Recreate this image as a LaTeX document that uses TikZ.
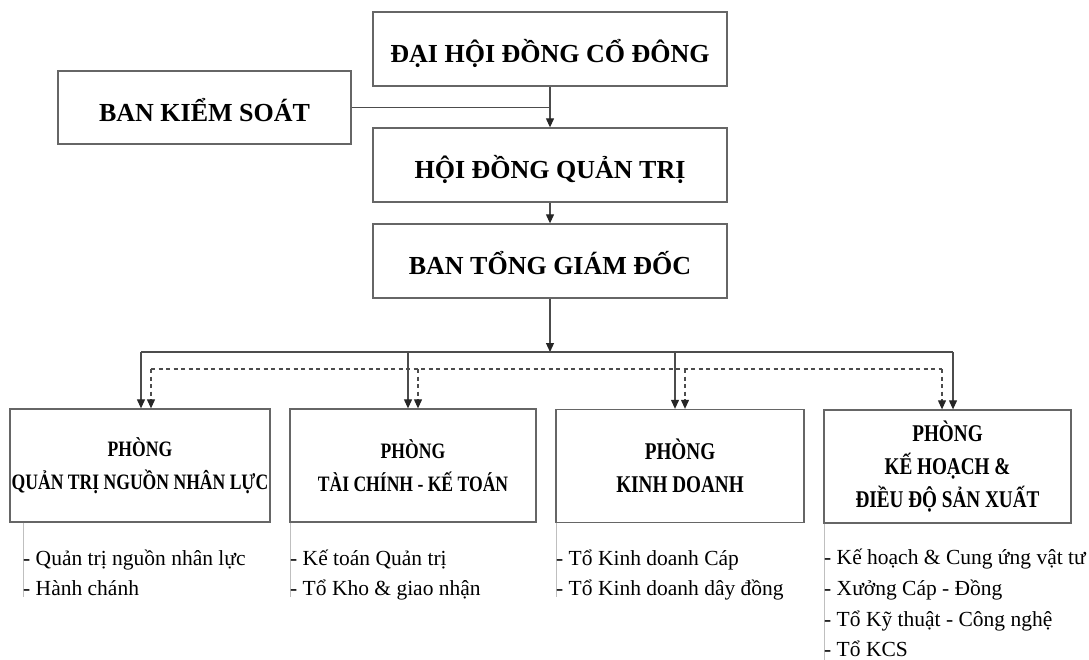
\documentclass[tikz,border=0pt]{standalone}
\usepackage{fontspec}
\setmainfont{Liberation Serif}
\newfontfamily\condfont[FakeStretch=0.8]{Liberation Serif}
\usetikzlibrary{arrows.meta}
\begin{document}
\begin{tikzpicture}[x=1pt,y=-1pt,
  orgbox/.style={draw=black!60, line width=1.3pt, inner sep=0pt},
  topbox/.style={orgbox, minimum width=354pt, minimum height=74pt,
    font=\bfseries\fontsize{26}{30}\selectfont, text height=28pt, text depth=0pt},
  dept/.style={orgbox, minimum height=113pt, align=center,
    font=\condfont\bfseries\fontsize{22}{33}\selectfont},
  deptbig/.style={dept, font=\condfont\bfseries\fontsize{24}{33}\selectfont},
  conn/.style={draw=black!70, line width=1.1pt},
  arr/.style={conn, -{Triangle[length=9pt,width=8pt,color=black!85]}},
  dconn/.style={conn, dash pattern=on 4pt off 3.5pt},
  darr/.style={dconn, -{Triangle[length=9pt,width=8pt,color=black!85]}},
  listitem/.style={anchor=base west, inner sep=0pt, font=\fontsize{21.5}{26}\selectfont},
  guide/.style={draw=black!25, line width=0.8pt}]
\useasboundingbox (0,0) rectangle (1089,660);

% top nodes
\node[topbox] (dh) at (550,49) {ĐẠI HỘI ĐỒNG CỔ ĐÔNG};
\node[topbox, minimum width=293pt, minimum height=73pt] (bks) at (204.5,107.5) {BAN KIỂM SOÁT};
\node[topbox] (hd) at (550,165) {HỘI ĐỒNG QUẢN TRỊ};
\node[topbox] (bt) at (550,261) {BAN TỔNG GIÁM ĐỐC};

% departments
\node[dept, minimum width=260pt] (p1) at (140,465.5) {PHÒNG\\QUẢN TRỊ NGUỒN NHÂN LỰC};
\node[dept, minimum width=246pt] (p2) at (413,465.5) {PHÒNG\\TÀI CHÍNH - KẾ TOÁN};
\node[deptbig, minimum width=248pt] (p3) at (680,466) {PHÒNG\\KINH DOANH};
\node[deptbig, minimum width=247pt] (p4) at (947.5,466.5) {PHÒNG\\KẾ HOẠCH \&\\ĐIỀU ĐỘ SẢN XUẤT};

% bus coordinates
\coordinate (bus) at (550,352);
\coordinate (s1) at (141,352);
\coordinate (s2) at (408,352);
\coordinate (s3) at (675,352);
\coordinate (s4) at (953,352);
\coordinate (d1) at (151,369);
\coordinate (d2) at (418,369);
\coordinate (d3) at (685,369);
\coordinate (d4) at (942,369);

% connectors
\draw[arr] (dh.south) -- (hd.north);
\draw[conn] (bks.east) -- (bks.east -| dh.south);
\draw[arr] (hd.south) -- (bt.north);
\draw[arr] (bt.south) -- (bus);
\draw[conn] (s1) -- (s4);
\draw[dconn] (d1) -- (d4);
\draw[arr] (s1) -- (s1 |- p1.north);
\draw[arr] (s2) -- (s2 |- p2.north);
\draw[arr] (s3) -- (s3 |- p3.north);
\draw[arr] (s4) -- (s4 |- p4.north);
\draw[darr] (d1) -- (d1 |- p1.north);
\draw[darr] (d2) -- (d2 |- p2.north);
\draw[darr] (d3) -- (d3 |- p3.north);
\draw[darr] (d4) -- (d4 |- p4.north);

% guide lines
\coordinate (g1) at (23,597);
\coordinate (g2) at (290,597);
\coordinate (g3) at (556,597);
\coordinate (g4) at (824,660);
\draw[guide] (g1 |- p1.south) -- (g1);
\draw[guide] (g2 |- p2.south) -- (g2);
\draw[guide] (g3 |- p3.south) -- (g3);
\draw[guide] (g4 |- p4.south) -- (g4);

% lists
\node[listitem] (i11) at (23,565) {- Quản trị nguồn nhân lực};
\node[listitem] (i12) at (23,595) {- Hành chánh};
\node[listitem] (i21) at (290,565) {- Kế toán Quản trị};
\node[listitem] (i22) at (290,595) {- Tổ Kho \& giao nhận};
\node[listitem] (i31) at (556,565) {- Tổ Kinh doanh Cáp};
\node[listitem] (i32) at (556,595) {- Tổ Kinh doanh dây đồng};
\node[listitem] (i41) at (824,564) {- Kế hoạch \& Cung ứng vật tư};
\node[listitem] (i42) at (824,595) {- Xưởng Cáp - Đồng};
\node[listitem] (i43) at (824,626) {- Tổ Kỹ thuật - Công nghệ};
\node[listitem] (i44) at (824,656) {- Tổ KCS};
\end{tikzpicture}
\end{document}
